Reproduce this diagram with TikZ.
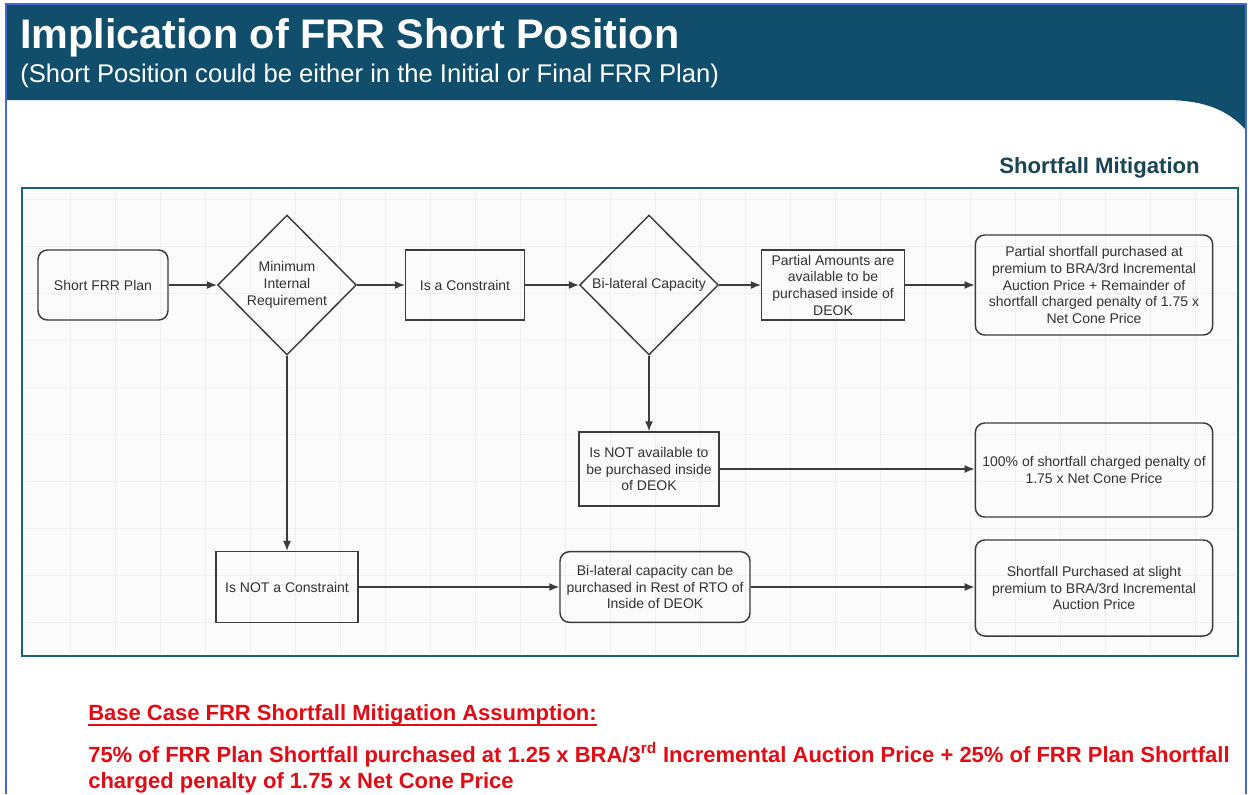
\documentclass[tikz,border=0pt]{standalone}
\usepackage{fontspec}
\setmainfont{Liberation Sans}
\usetikzlibrary{shapes.geometric,arrows.meta}
\definecolor{headblue}{RGB}{16,78,108}
\definecolor{frameteal}{RGB}{24,98,124}
\definecolor{pageblue}{RGB}{70,105,205}
\definecolor{titleteal}{RGB}{26,68,84}
\definecolor{notered}{RGB}{226,12,20}
\definecolor{boxgray}{RGB}{60,60,60}
\definecolor{textgray}{RGB}{50,50,50}
\begin{document}
\begin{tikzpicture}[x=0.75pt, y=-0.75pt,
  box/.style={draw=boxgray, line width=1.1pt, text=textgray, align=center, inner sep=2pt,
    font=\fontsize{10.5}{12.5}\selectfont},
  roundbox/.style={box, rounded corners=7pt},
  decision/.style={box, diamond, inner sep=0pt, minimum width=104pt, minimum height=105pt},
  flow/.style={draw=boxgray, line width=1.1pt, -{Latex[length=7.5pt,width=6pt]}}]
  \useasboundingbox (0,0) rectangle (1251,794);
  \fill[white] (0,0) rectangle (1251,794);

  % Header band
  \fill[headblue] (6,4) -- (1246,4) -- (1246,130) .. controls (1228,110) and (1205,101) .. (1170,100) -- (6,100) -- cycle;
  \draw[pageblue, line width=1.5pt] (6,794) -- (6,4) -- (1246,4) -- (1246,794);
  \node[anchor=base west, inner sep=0pt, text=white, font=\bfseries\fontsize{31}{36}\selectfont] (title) at (20,48) {Implication of FRR Short Position};
  \node[anchor=base west, inner sep=0pt, text=white, font=\fontsize{19.2}{22}\selectfont] (subtitle) at (20,82) {(Short Position could be either in the Initial or Final FRR Plan)};
  \node[anchor=base east, inner sep=0pt, text=titleteal, font=\bfseries\fontsize{16.6}{20}\selectfont] (mitig) at (1200,173) {Shortfall Mitigation};

  % Flowchart frame with grid
  \fill[gray!3] (22,188) rectangle (1238,656);
  \foreach \gx in {70,115,...,1230}
    \draw[gray!12, line width=0.6pt] (\gx,190) -- (\gx,654);
  \foreach \gy in {199,246,...,640}
    \draw[gray!12, line width=0.6pt] (24,\gy) -- (1236,\gy);
  \draw[frameteal, line width=2.2pt] (22,188) rectangle (1238,656);

  % Top row
  \node[roundbox, minimum width=97.5pt, minimum height=52.5pt] (plan) at (103,285) {Short FRR Plan};
  \node[decision] (minreq) at (287,285) {Minimum\\Internal\\Requirement};
  \node[box, minimum width=89pt, minimum height=52.5pt] (iscon) at (465,285) {Is a Constraint};
  \node[decision] (bilat) at (649,285) {Bi-lateral Capacity};
  \node[box, minimum width=107pt, minimum height=52.5pt] (partial) at (833,285) {Partial Amounts are\\available to be\\purchased inside of\\DEOK};
  \node[roundbox, minimum width=178pt, minimum height=75pt] (partres) at (1094,285) {Partial shortfall purchased at\\premium to BRA/3rd Incremental\\Auction Price + Remainder of\\shortfall charged penalty of 1.75 x\\Net Cone Price};

  % Middle row
  \node[box, minimum width=105pt, minimum height=55.5pt] (notavail) at (649,469) {Is NOT available to\\be purchased inside\\of DEOK};
  \node[roundbox, minimum width=178pt, minimum height=70.5pt] (fullpen) at (1094,470) {100\% of shortfall charged penalty of\\1.75 x Net Cone Price};

  % Bottom row
  \node[box, minimum width=106.5pt, minimum height=53pt] (notcon) at (287,587) {Is NOT a Constraint};
  \node[roundbox, minimum width=142.5pt, minimum height=53pt] (rto) at (655,587) {Bi-lateral capacity can be\\purchased in Rest of RTO of\\Inside of DEOK};
  \node[roundbox, minimum width=178pt, minimum height=72pt] (slight) at (1094,588) {Shortfall Purchased at slight\\premium to BRA/3rd Incremental\\Auction Price};

  % Connectors
  \draw[flow] (plan) -- (minreq);
  \draw[flow] (minreq) -- (iscon);
  \draw[flow] (iscon) -- (bilat);
  \draw[flow] (bilat) -- (partial);
  \draw[flow] (partial) -- (partres);
  \draw[flow] (bilat.south) -- (notavail.north);
  \draw[flow] (notavail) -- (notavail -| fullpen.west);
  \draw[flow] (minreq.south) -- (notcon.north);
  \draw[flow] (notcon) -- (rto);
  \draw[flow] (rto) -- (rto -| slight.west);

  % Base case note
  \node[anchor=base west, inner sep=0pt, text=notered, font=\bfseries\fontsize{16.5}{20}\selectfont] (basecase) at (88,720) {Base Case FRR Shortfall Mitigation Assumption:};
  \draw[notered, line width=1.5pt] ([yshift=-4pt]basecase.base west) -- ([yshift=-4pt]basecase.base east);
  \node[anchor=base west, inner sep=0pt, text=notered, font=\bfseries\fontsize{16.5}{20}\selectfont] (noteone) at (88,762) {75\% of FRR Plan Shortfall purchased at 1.25 x BRA/3\textsuperscript{rd} Incremental Auction Price + 25\% of FRR Plan Shortfall};
  \node[anchor=base west, inner sep=0pt, text=notered, font=\bfseries\fontsize{16.5}{20}\selectfont] (notetwo) at (88,788) {charged penalty of 1.75 x Net Cone Price};
\end{tikzpicture}
\end{document}
